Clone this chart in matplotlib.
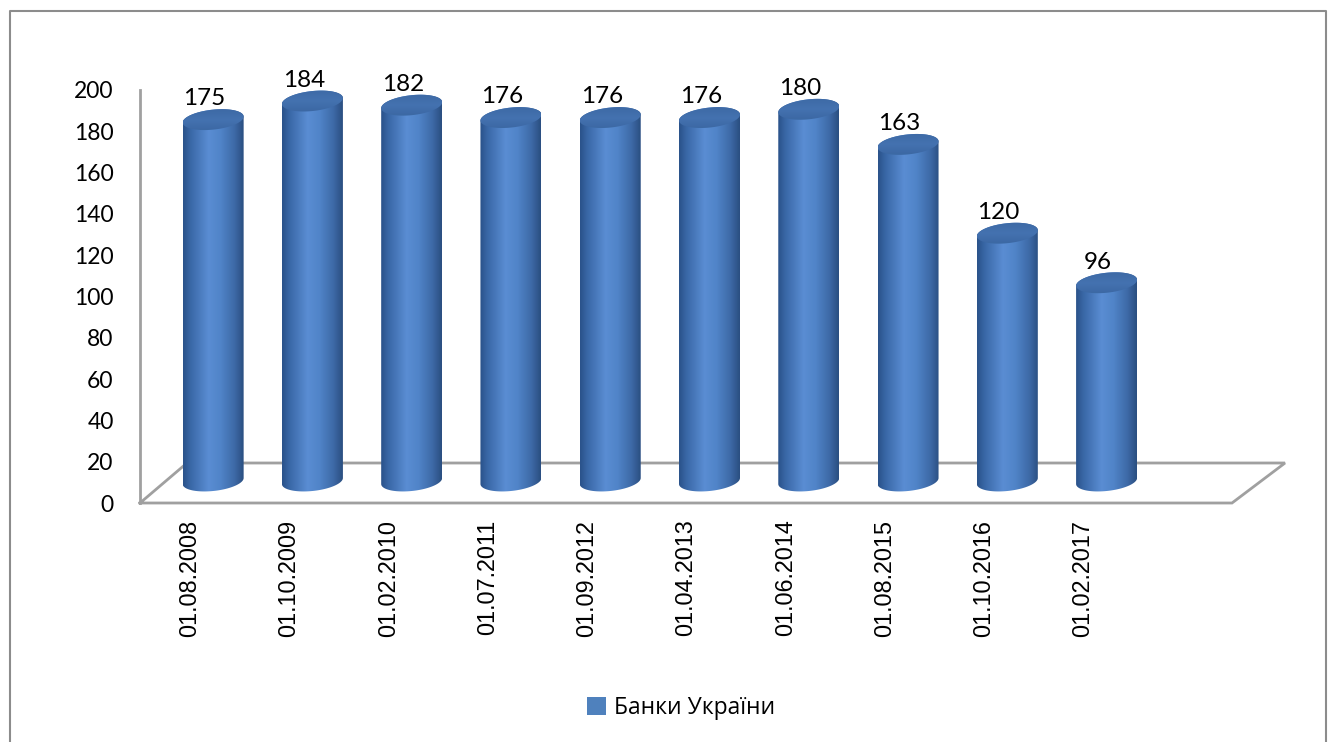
import numpy as np
import matplotlib
matplotlib.use("Agg")
import matplotlib.pyplot as plt
from matplotlib.patches import Polygon, Rectangle
from matplotlib.lines import Line2D
from matplotlib.colors import LinearSegmentedColormap

# ---- data ----
categories = ["01.08.2008", "01.10.2009", "01.02.2010", "01.07.2011", "01.09.2012",
              "01.04.2013", "01.06.2014", "01.08.2015", "01.10.2016", "01.02.2017"]
values = [175, 184, 182, 176, 176, 176, 180, 163, 120, 96]
series_name = "Банки України"
y_ticks = list(range(0, 201, 20))

W, H = 1333, 742
fig = plt.figure(figsize=(W / 100, H / 100), dpi=100)

# front plane of the 3D plot area in pixels
px_left, px_right, px_top, px_bottom = 140, 1232, 90, 503
ax = fig.add_axes([px_left / W, 1 - px_bottom / H, (px_right - px_left) / W, (px_bottom - px_top) / H])
XMIN, XMAX, YMIN, YMAX = -0.5, 10.5, 0, 200
ppx = (px_right - px_left) / (XMAX - XMIN)   # pixels per category unit
ppy = (px_bottom - px_top) / (YMAX - YMIN)   # pixels per value unit

depth_dx_l = 47 / ppx
depth_dx_r = 53 / ppx
depth_dy = 40 / ppy

grid_col = "#A0A0A0"
# floor
floor = [(XMIN, 0), (XMAX, 0), (XMAX + depth_dx_r, depth_dy), (XMIN + depth_dx_l, depth_dy), (XMIN, 0)]
fx, fy = zip(*floor)
ax.plot(fx, fy, color=grid_col, lw=2, zorder=1, clip_on=False, solid_joinstyle="miter")
ax.plot([XMIN, XMIN], [0, YMAX], color=grid_col, lw=2, zorder=1, clip_on=False)

# cylinders
body_cmap = LinearSegmentedColormap.from_list("body", [
    (0.0, "#2A5289"), (0.12, "#3967A6"), (0.42, "#5A8DD3"), (0.62, "#5084C8"),
    (0.85, "#3D69A6"), (1.0, "#2A4E80")])
top_cmap = LinearSegmentedColormap.from_list("top", [
    (0.0, "#3A66A1"), (0.5, "#4472B0"), (1.0, "#3C68A3")])

rx = 30.5 / ppx
ry = 10.0 / ppy
shear = 3.0 / ppy
base_y = 22.0 / ppy
t = np.linspace(0, 2 * np.pi, 200)

for i, v in enumerate(values):
    xc = i + (depth_dx_l / 2)
    y0 = base_y
    y1 = base_y + v
    tb = np.linspace(np.pi, 2 * np.pi, 100)
    tt = np.linspace(0, np.pi, 100)
    bx = xc + rx * np.cos(tb)
    by = y0 + ry * np.sin(tb) + shear * np.cos(tb)
    tx = xc + rx * np.cos(tt)
    ty = y1 + ry * np.sin(tt) + shear * np.cos(tt)
    body = Polygon(np.column_stack([np.r_[bx, tx], np.r_[by, ty]]), closed=True,
                   facecolor="none", edgecolor="none", transform=ax.transData)
    ax.add_patch(body)
    grad = np.linspace(0, 1, 256).reshape(1, -1)
    im = ax.imshow(grad, extent=[xc - rx, xc + rx, y0 - ry - 2, y1 + ry + 2], cmap=body_cmap,
                   aspect="auto", interpolation="bicubic", zorder=3, origin="lower")
    im.set_clip_path(body)
    ex = xc + rx * np.cos(t)
    ey = y1 + ry * np.sin(t) + shear * np.cos(t)
    topp = Polygon(np.column_stack([ex, ey]), closed=True, facecolor="none", edgecolor="none")
    ax.add_patch(topp)
    g2 = np.linspace(0, 1, 64).reshape(-1, 1)
    im2 = ax.imshow(g2, extent=[xc - rx, xc + rx, y1 - ry - shear, y1 + ry + shear], cmap=top_cmap,
                    aspect="auto", interpolation="bicubic", zorder=4, origin="lower")
    im2.set_clip_path(topp)
    ax.text(i + 0.15, y1 + ry + 2.0, str(v), ha="center", va="baseline",
            fontsize=17.5, family=["Lato", "DejaVu Sans"], color="black", zorder=6)

ax.set_xlim(XMIN, XMAX)
ax.set_ylim(YMIN, YMAX)
for s in ax.spines.values():
    s.set_visible(False)
ax.patch.set_alpha(0)

ax.set_yticks(y_ticks)
ax.set_yticklabels([str(y) for y in y_ticks], family=["Lato", "DejaVu Sans"], fontsize=16.5)
ax.tick_params(axis="y", length=0, pad=19)
ax.set_xticks(range(len(categories)))
ax.set_xticklabels(categories, rotation=90, family=["Liberation Sans", "DejaVu Sans"], fontsize=16.8)
ax.tick_params(axis="x", length=0, pad=12)

# legend
handle = Rectangle((0, 0), 1, 1, facecolor="#4F81BD", edgecolor="none")
fig.legend([handle], [series_name], loc="center", bbox_to_anchor=(681 / W, 1 - 708 / H),
           frameon=False, handlelength=0.85, handleheight=0.85, handletextpad=0.35,
           prop={"family": ["Open Sans", "DejaVu Sans"], "size": 16.5})

# outer border
bc = "#8C8C8C"
fig.add_artist(Line2D([10 / W, 10 / W, 1326 / W, 1326 / W], [0, 1 - 11 / H, 1 - 11 / H, 0],
                      transform=fig.transFigure, color=bc, lw=1.5))

fig.savefig("out.png", dpi=100)
